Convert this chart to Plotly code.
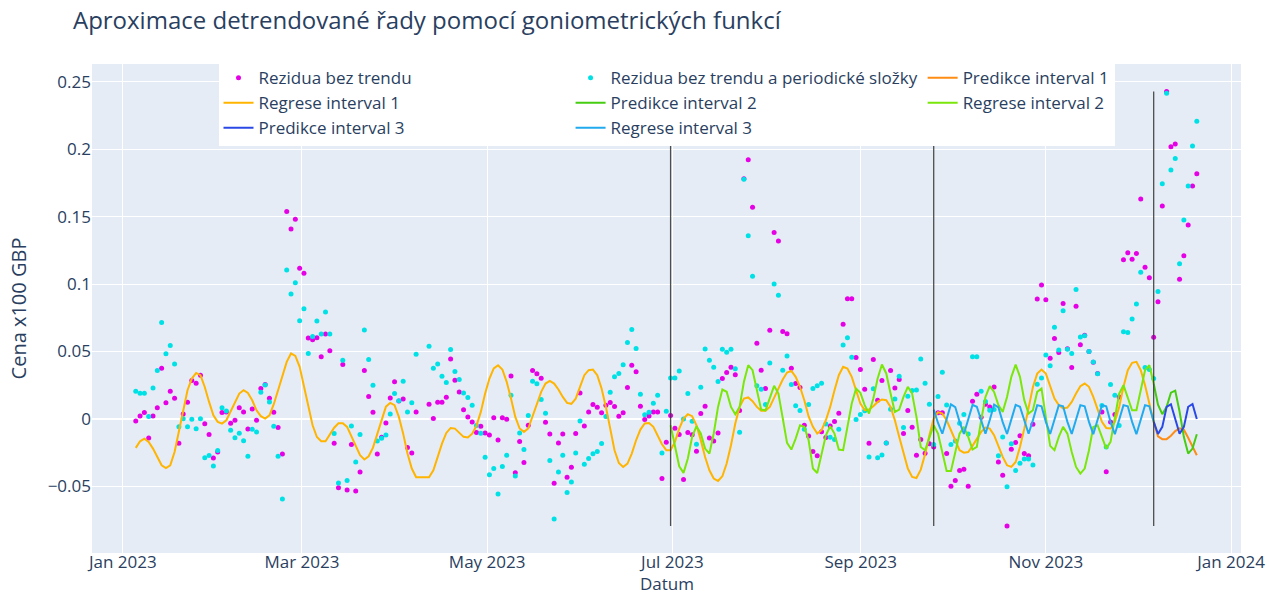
import pandas as pd
import plotly.graph_objects as go

# ---------------- data ----------------
START = "2023-01-05 06:45"
END = "2023-12-20 16:45"
N_SLOTS = 247
I2_START = 124      # first slot of interval 2
I3_START = 185      # first slot of interval 3
PRED_START = 236    # first slot of the prediction

rez = [
    -0.0015, 0.0022, 0.0047, -0.0141, 0.0022, 0.0082, 0.0376, 0.0119, 0.0205, 0.0153,
    -0.0181, 0.0037, 0.0124, 0.0285, 0.0265, 0.0324, -0.0035, -0.0116, -0.0290, -0.0245,
    0.0047, 0.0052, -0.0032, -0.0010, 0.0082, 0.0052, -0.0074, 0.0074, -0.0010, 0.0225,
    0.0255, 0.0153, 0.0050, -0.0064, -0.0260, 0.1537, 0.1408, 0.1480, 0.1116, 0.1079,
    0.0599, 0.0587, 0.0601, 0.0460, 0.0629, 0.0505, -0.0181, -0.0510, 0.0403, -0.0527,
    -0.0190, -0.0534, -0.0393, 0.0358, 0.0166, 0.0050, -0.0260, -0.0136, -0.0030, 0.0155,
    0.0275, 0.0133, 0.0148, -0.0212, -0.0252, 0.0051, None, None, 0.0109, 0.0003,
    0.0124, 0.0124, 0.0161, 0.0445, 0.0287, 0.0200, 0.0067, 0.0015, -0.0022, -0.0101,
    -0.0054, -0.0104, -0.0119, 0.0008, -0.0156, 0.0008, -0.0002, 0.0319, -0.0400, -0.0168,
    -0.0324, -0.0047, 0.0359, 0.0334, 0.0302, -0.0025, -0.0111, -0.0477, -0.0178, -0.0111,
    -0.0432, -0.0358, -0.0108, 0.0193, -0.0052, 0.0052, 0.0107, 0.0087, 0.0045, 0.0102,
    0.0121, 0.0092, 0.0020, 0.0045, 0.0233, 0.0398, 0.0349, 0.0094, -0.0005, 0.0022,
    0.0052, 0.0052, -0.0442, -0.0173, 0.0025, -0.0069, -0.0116, -0.0450, -0.0101, -0.0118,
    -0.0240, 0.0040, 0.0094, -0.0141, -0.0163, -0.0104, 0.0299, 0.0344, 0.0383, 0.0327,
    0.0062, 0.1780, 0.1921, 0.1570, 0.0561, 0.0361, 0.0225, 0.0658, 0.1382, 0.1318,
    0.0648, 0.0631, 0.0376, 0.0262, 0.0233, -0.0047, -0.0126, -0.0242, -0.0274, -0.0096,
    -0.0138, -0.0052, -0.0020, 0.0042, 0.0702, 0.0890, 0.0890, 0.0455, 0.0366, 0.0220,
    -0.0181, 0.0440, 0.0139, 0.0284, -0.0178, 0.0359, 0.0230, 0.0292, -0.0109, 0.0062,
    -0.0062, -0.0270, -0.0153, -0.0255, -0.0185, -0.0208, 0.0045, 0.0045, -0.0257, -0.0499,
    -0.0457, -0.0383, -0.0373, -0.0499, 0.0131, 0.0183, 0.0012, 0.0109, 0.0089, 0.0237,
    -0.0319, -0.0418, -0.0794, -0.0225, -0.0175, -0.0124, -0.0257, -0.0274, -0.0040, 0.0888,
    0.0992, 0.0883, 0.0450, 0.0596, 0.0492, 0.0856, 0.0520, 0.0381, 0.0836, 0.0549,
    0.0620, 0.0500, 0.0420, 0.0337, 0.0052, -0.0391, -0.0022, 0.0032, 0.0163, 0.1180,
    0.1231, 0.1184, 0.1227, 0.1630, 0.1125, 0.1046, 0.0606, 0.0868, 0.1578, 0.2428,
    0.2018, 0.2038, 0.1036, 0.1209, 0.1437, 0.1726, 0.1817,
]

rez_per = [
    0.0205, 0.0191, 0.0191, 0.0017, 0.0230, 0.0359, 0.0715, 0.0483, 0.0545, 0.0408,
    -0.0059, 0.0002, -0.0059, -0.0002, -0.0072, 0.0002, -0.0287, -0.0272, -0.0349, -0.0235,
    0.0082, 0.0059, -0.0084, -0.0139, -0.0106, -0.0161, -0.0277, -0.0077, -0.0097, 0.0198,
    0.0252, 0.0126, -0.0054, -0.0277, -0.0594, 0.1104, 0.0926, 0.1010, 0.0728, 0.0817,
    0.0485, 0.0611, 0.0725, 0.0629, 0.0792, 0.0629, -0.0109, -0.0475, 0.0435, -0.0457,
    -0.0053, -0.0319, -0.0116, 0.0660, 0.0440, 0.0250, -0.0163, -0.0143, -0.0119, 0.0036,
    0.0188, 0.0135, 0.0280, 0.0052, 0.0119, 0.0480, None, None, 0.0538, 0.0376,
    0.0408, 0.0317, 0.0270, 0.0515, 0.0351, 0.0292, 0.0193, 0.0158, 0.0102, -0.0049,
    -0.0106, -0.0284, -0.0413, -0.0368, -0.0556, -0.0353, -0.0269, 0.0176, -0.0423, -0.0104,
    -0.0227, 0.0025, 0.0280, 0.0260, 0.0144, 0.0042, -0.0309, -0.0742, -0.0393, -0.0269,
    -0.0546, -0.0467, -0.0252, -0.0015, -0.0336, -0.0294, -0.0259, -0.0242, -0.0183, 0.0018,
    0.0198, 0.0312, 0.0337, 0.0401, 0.0567, 0.0663, 0.0522, 0.0183, 0.0030, 0.0050,
    0.0116, 0.0176, -0.0252, 0.0057, 0.0304, 0.0304, 0.0356, 0.0000, 0.0188, -0.0017,
    -0.0188, 0.0235, 0.0519, 0.0435, 0.0383, 0.0277, 0.0517, 0.0495, 0.0517, 0.0371,
    -0.0099, 0.1776, 0.1357, 0.1058, 0.0245, 0.0220, 0.0106, 0.0415, 0.1001, 0.0917,
    0.0361, 0.0467, 0.0255, 0.0097, 0.0062, -0.0077, 0.0106, 0.0225, 0.0245, 0.0265,
    -0.0037, -0.0136, -0.0153, -0.0077, 0.0547, 0.0601, 0.0457, -0.0005, 0.0032, 0.0060,
    -0.0282, 0.0223, -0.0287, -0.0267, -0.0178, 0.0072, 0.0148, 0.0317, -0.0064, 0.0168,
    0.0210, 0.0215, 0.0445, 0.0265, 0.0109, -0.0190, 0.0166, 0.0346, 0.0104, -0.0190,
    -0.0163, -0.0032, 0.0032, -0.0111, 0.0460, 0.0460, 0.0205, 0.0129, 0.0064, 0.0069,
    -0.0274, -0.0134, -0.0502, -0.0185, -0.0383, -0.0329, -0.0297, -0.0297, -0.0341, 0.0257,
    0.0304, 0.0473, 0.0394, 0.0680, 0.0510, 0.0801, 0.0517, 0.0484, 0.0959, 0.0608,
    0.0616, 0.0500, 0.0421, 0.0334, 0.0099, -0.0208, 0.0255, 0.0176, -0.0049, 0.0646,
    0.0641, 0.0740, 0.0851, 0.1088, 0.0381, 0.0366, 0.0299, 0.0945, 0.1743, 0.2414,
    0.1845, 0.1931, 0.1150, 0.1474, 0.1726, 0.2023, 0.2206,
]

reg1 = [
    -0.0215, -0.0166, -0.0146, -0.0171, -0.0220, -0.0282, -0.0344, -0.0364, -0.0344, -0.0245,
    -0.0096, 0.0064, 0.0213, 0.0299, 0.0341, 0.0324, 0.0237, 0.0126, 0.0027, -0.0022,
    -0.0035, -0.0010, 0.0052, 0.0126, 0.0188, 0.0213, 0.0193, 0.0138, 0.0064, 0.0020,
    0.0002, 0.0027, 0.0109, 0.0213, 0.0324, 0.0423, 0.0485, 0.0467, 0.0386, 0.0237,
    0.0089, -0.0047, -0.0134, -0.0166, -0.0166, -0.0118, -0.0065, -0.0032, -0.0032, -0.0059,
    -0.0130, -0.0208, -0.0269, -0.0301, -0.0277, -0.0213, -0.0109, 0.0003, 0.0091, 0.0119,
    0.0102, 0.0015, -0.0109, -0.0257, -0.0368, -0.0432, None, None, -0.0432, -0.0381,
    -0.0282, -0.0183, -0.0104, -0.0067, -0.0072, -0.0104, -0.0133, -0.0138, -0.0109, -0.0050,
    0.0052, 0.0188, 0.0299, 0.0374, 0.0398, 0.0366, 0.0275, 0.0151, 0.0015, -0.0071,
    -0.0096, -0.0071, 0.0015, 0.0114, 0.0201, 0.0262, 0.0282, 0.0262, 0.0218, 0.0163,
    0.0119, 0.0112, 0.0150, 0.0238, 0.0324, 0.0361, 0.0366, 0.0324, 0.0225, 0.0089,
    -0.0084, -0.0232, -0.0326, -0.0356, -0.0331, -0.0257, -0.0158, -0.0079, -0.0034, -0.0030,
    -0.0059, -0.0121, -0.0188, -0.0232, -0.0232, -0.0170, -0.0072, 0.0003, 0.0035, 0.0020,
    -0.0047, -0.0158, -0.0282, -0.0381, -0.0442, -0.0460, -0.0425, -0.0331, -0.0195, -0.0034,
    0.0089, 0.0151, 0.0159, 0.0131, 0.0089, 0.0060, 0.0060, 0.0089, 0.0151, 0.0225,
    0.0292, 0.0344, 0.0356, 0.0312, 0.0238, 0.0139, 0.0018, -0.0059, -0.0109, -0.0084,
    -0.0010, 0.0089, 0.0213, 0.0324, 0.0386, 0.0374, 0.0312, 0.0213, 0.0114, 0.0064,
    0.0069, 0.0094, 0.0126, 0.0144, 0.0139, 0.0089, -0.0010, -0.0133, -0.0257, -0.0368,
    -0.0430, -0.0438, -0.0376, -0.0262, -0.0121, 0.0003, 0.0050, 0.0040, -0.0010, -0.0084,
    -0.0170, -0.0232, -0.0250, -0.0245, -0.0200, -0.0146, -0.0096, -0.0064, -0.0072, -0.0121,
    -0.0208, -0.0282, -0.0344, -0.0356, -0.0319, -0.0208, -0.0072, 0.0089, 0.0237, 0.0336,
    0.0366, 0.0336, 0.0250, 0.0151, 0.0102, 0.0077, 0.0084, 0.0126, 0.0188, 0.0243,
    0.0262, 0.0238, 0.0163, 0.0065, -0.0022, -0.0067, -0.0071, -0.0022, 0.0089, 0.0238,
    0.0361, 0.0416, 0.0423, 0.0361, 0.0250, 0.0114, -0.0022,
]

reg2 = [
    -0.0047, -0.0208, -0.0351, -0.0400, -0.0294, -0.0133, -0.0054, -0.0108, -0.0220, -0.0257,
    -0.0108, 0.0089, 0.0218, 0.0201, 0.0089, 0.0035, 0.0089, 0.0275, 0.0398, 0.0361,
    0.0201, 0.0069, 0.0064, 0.0163, 0.0245, 0.0188, 0.0015, -0.0178, -0.0227, -0.0146,
    -0.0047, -0.0059, -0.0158, -0.0368, -0.0401, -0.0270, -0.0121, -0.0054, -0.0109, -0.0227,
    -0.0232, -0.0059, 0.0114, 0.0225, 0.0193, 0.0102, 0.0040, 0.0151, 0.0299, 0.0403,
    0.0337, 0.0188, 0.0052, 0.0069, 0.0163, 0.0238, 0.0188, 0.0015, -0.0208, -0.0232,
    -0.0133, -0.0047, -0.0109, -0.0257, -0.0386, -0.0386, -0.0257, -0.0109, -0.0059, -0.0133,
    -0.0227, -0.0208, -0.0010, 0.0163, 0.0243, 0.0200, 0.0102, 0.0052, 0.0163, 0.0312,
    0.0403, 0.0312, 0.0139, 0.0040, 0.0064, 0.0200, 0.0225, 0.0020, -0.0200, -0.0232,
    -0.0133, -0.0059, -0.0109, -0.0245, -0.0356, -0.0405, -0.0368, -0.0232, -0.0059, -0.0047,
    -0.0133, -0.0220, -0.0170, 0.0015, 0.0188, 0.0250, 0.0163, 0.0064, 0.0064, 0.0213,
    0.0361, 0.0398, 0.0262,
]

reg3 = [
    0.0069, -0.0030, -0.0110, -0.0010, 0.0108, 0.0088, -0.0022, -0.0112, -0.0012, 0.0104,
    0.0090, -0.0020, -0.0110, -0.0008, 0.0106, 0.0086, -0.0024, -0.0112, -0.0010, 0.0104,
    0.0090, -0.0018, -0.0110, -0.0010, 0.0102, 0.0094, -0.0022, -0.0112, -0.0010, 0.0102,
    0.0094, -0.0022, -0.0112, -0.0010, 0.0102, 0.0094, -0.0022, -0.0114, -0.0010, 0.0102,
    0.0094, -0.0022, -0.0114, -0.0010, 0.0102, 0.0094, -0.0022, -0.0114, -0.0010, 0.0102,
    0.0094, -0.0020,
]

pred1 = [-0.0022, -0.0130, -0.0150, -0.0150, -0.0125, -0.0090, -0.0070, -0.0080, -0.0140, -0.0200, -0.0269]
pred2 = [0.0262, 0.0105, 0.0035, 0.0090, 0.0195, 0.0210, 0.0055, -0.0135, -0.0257, -0.0220, -0.0114]
pred3 = [-0.0020, -0.0112, -0.0059, 0.0089, 0.0109, -0.0010, -0.0110, -0.0059, 0.0090, 0.0110, 0.0000]

names = {
    "rez": "Rezidua bez trendu",
    "rez_per": "Rezidua bez trendu a periodické složky",
    "pred1": "Predikce interval 1",
    "reg1": "Regrese interval 1",
    "pred2": "Predikce interval 2",
    "reg2": "Regrese interval 2",
    "pred3": "Predikce interval 3",
    "reg3": "Regrese interval 3",
}
TITLE = "Aproximace detrendované řady pomocí goniometrických funkcí"
X_TITLE = "Datum"
Y_TITLE = "Cena x100 GBP"

# ---------------- figure ----------------
dates = pd.date_range(START, END, periods=N_SLOTS)

C_REZ = "#e600e6"
C_REZP = "#00e1e6"
C_REG1 = "#ffb400"
C_PRED1 = "#ff8c14"
C_REG2 = "#7be60a"
C_PRED2 = "#46cc10"
C_REG3 = "#22aaee"
C_PRED3 = "#2a48e6"

fig = go.Figure()
fig.add_trace(go.Scatter(x=dates, y=rez, mode="markers", name=names["rez"],
                         marker=dict(color=C_REZ, size=5)))
fig.add_trace(go.Scatter(x=dates, y=rez_per, mode="markers", name=names["rez_per"],
                         marker=dict(color=C_REZP, size=5)))

pred_x = dates[PRED_START:PRED_START + len(pred1)]
fig.add_trace(go.Scatter(x=pred_x, y=pred1, mode="lines", name=names["pred1"],
                         line=dict(color=C_PRED1, width=2)))
fig.add_trace(go.Scatter(x=dates[:len(reg1)], y=reg1, mode="lines", name=names["reg1"],
                         connectgaps=True, line=dict(color=C_REG1, width=2)))
fig.add_trace(go.Scatter(x=pred_x, y=pred2, mode="lines", name=names["pred2"],
                         line=dict(color=C_PRED2, width=2)))
fig.add_trace(go.Scatter(x=dates[I2_START:I2_START + len(reg2)], y=reg2, mode="lines",
                         name=names["reg2"], line=dict(color=C_REG2, width=2)))
fig.add_trace(go.Scatter(x=pred_x, y=pred3, mode="lines", name=names["pred3"],
                         line=dict(color=C_PRED3, width=2)))
fig.add_trace(go.Scatter(x=dates[I3_START:I3_START + len(reg3)], y=reg3, mode="lines",
                         name=names["reg3"], line=dict(color=C_REG3, width=2)))

all_vals = [v for v in rez + rez_per if v is not None]
y_lo, y_hi = min(all_vals), max(all_vals)
for idx in (I2_START, I3_START, PRED_START):
    fig.add_trace(go.Scatter(x=[dates[idx], dates[idx]], y=[y_lo, y_hi], mode="lines",
                             showlegend=False, hoverinfo="skip",
                             line=dict(color="rgba(60,60,60,0.9)", width=1.3)))

fig.update_layout(
    width=1269, height=596,
    font=dict(family="Open Sans, verdana, arial, sans-serif", size=17, color="#2a3f5f"),
    title=dict(text=TITLE, x=0.0575, xanchor="left", y=0.966, yanchor="middle",
               font=dict(size=24)),
    margin=dict(l=92, r=28, t=64, b=43),
    plot_bgcolor="#E5ECF6",
    paper_bgcolor="white",
    legend=dict(orientation="h", x=0.5, xanchor="center", y=1.008, yanchor="top",
                bgcolor="white", font=dict(size=17)),
    xaxis=dict(range=["2022-12-21 21:00", "2024-01-04 06:00"],
               dtick="M2", tick0="2023-01-01", tickformat="%b %Y",
               ticklabelstandoff=-3,
               gridcolor="white", automargin=False),
    yaxis=dict(title=dict(text=Y_TITLE, font=dict(size=20)),
               range=[-0.0994, 0.2631], dtick=0.05,
               gridcolor="white", zerolinecolor="white", zerolinewidth=2,
               automargin=False),
    annotations=[dict(text=X_TITLE, xref="paper", yref="paper", x=0.5, y=-0.0879,
                      xanchor="center", yanchor="bottom", showarrow=False,
                      borderpad=0, font=dict(size=17))],
)

fig.write_html("out.html", include_plotlyjs=True, full_html=True,
               config={"displayModeBar": False},
               post_script="document.body.style.margin='0';document.body.style.overflow='hidden';")
